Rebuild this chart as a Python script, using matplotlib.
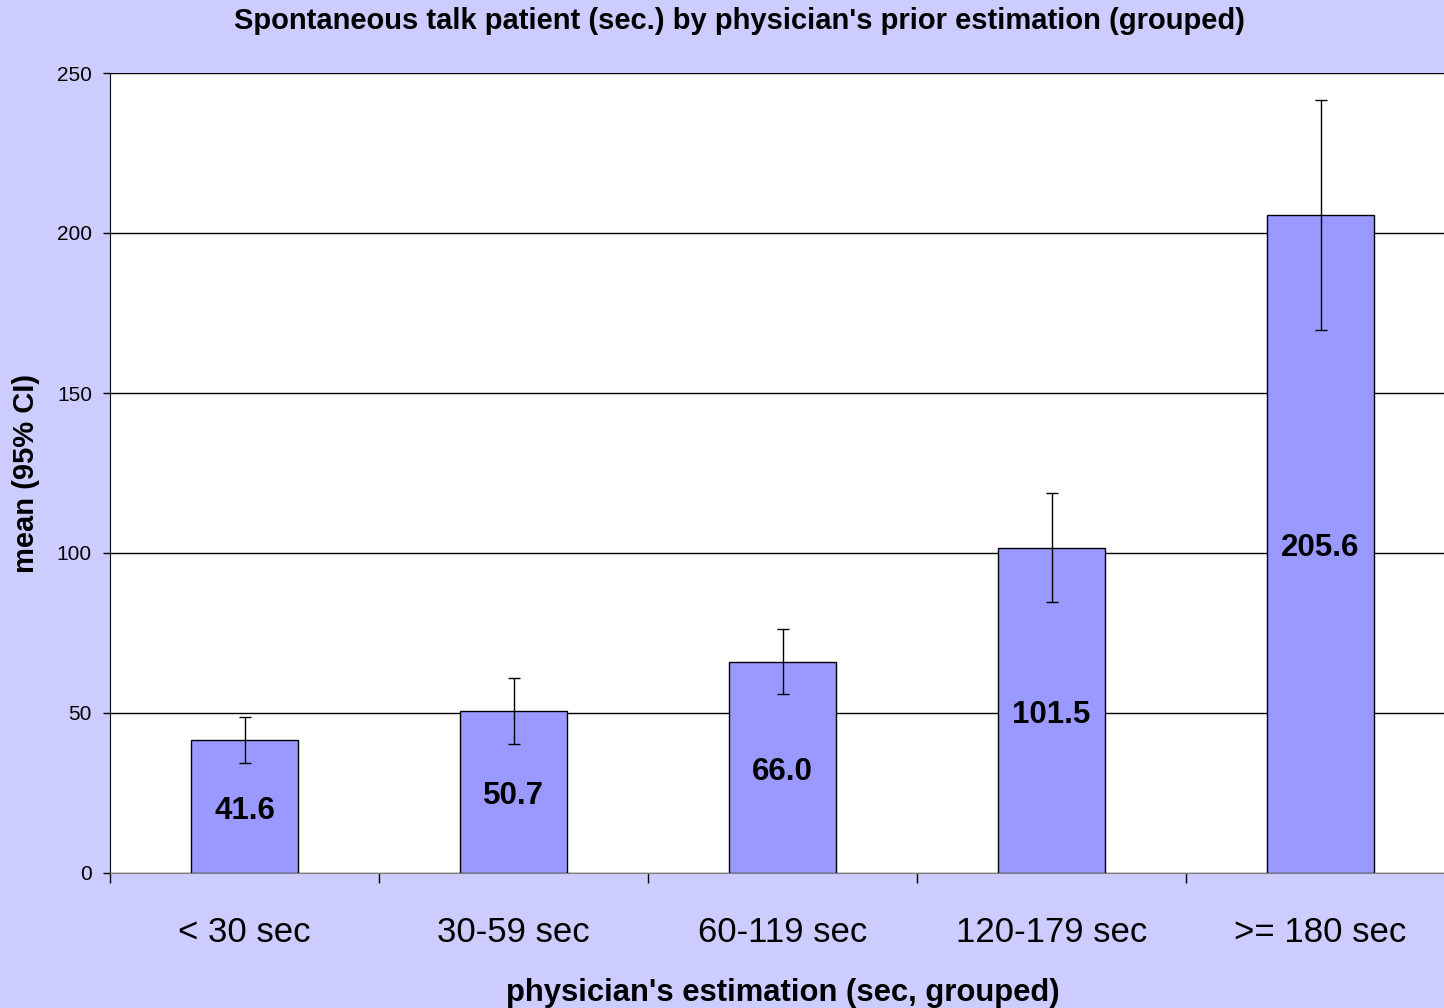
import matplotlib.pyplot as plt
import numpy as np

# data
categories = ['< 30 sec', '30-59 sec', '60-119 sec', '120-179 sec', '>= 180 sec']
means = [41.6, 50.7, 66.0, 101.5, 205.6]
ci_low = [34.4, 40.3, 55.9, 84.7, 169.7]
ci_high = [48.8, 60.9, 76.3, 118.8, 241.6]

plt.rcParams['font.family'] = ['Liberation Sans', 'DejaVu Sans']

fig = plt.figure(figsize=(14.44, 10.08), dpi=100, facecolor='#CCCCFF')
ax = fig.add_axes([110 / 1444, 1 - 873 / 1008, 1345 / 1444, 800 / 1008])
ax.set_facecolor('white')

x = np.arange(len(categories))
means = np.array(means)
yerr = [means - np.array(ci_low), np.array(ci_high) - means]

ax.bar(x, means, width=0.4, color='#9999FF', edgecolor='black', linewidth=1, zorder=3)
ax.errorbar(x, means, yerr=yerr, fmt='none', ecolor='black', elinewidth=1,
            capsize=4, capthick=1, zorder=4)

for xi, m in zip(x, means):
    ax.annotate(f'{m:.1f}', (xi, m / 2), xytext=(0, -3), textcoords='offset points',
                ha='center', va='center', fontsize=22.5, fontweight='bold', zorder=5)

ax.set_xlim(-0.5, 4.5)
ax.set_ylim(0, 250)
ax.set_yticks([0, 50, 100, 150, 200, 250])
ax.yaxis.grid(True, color='black', linewidth=1, zorder=1)
ax.tick_params(axis='y', labelsize=15, length=5, width=1, pad=8)

ax.set_xticks(x)
ax.set_xticklabels(categories, fontsize=25)
ax.set_xticks(np.arange(-0.5, 4.5, 1), minor=True)
ax.tick_params(axis='x', which='major', length=0, pad=31)
ax.tick_params(axis='x', which='minor', length=7.5, width=1)

for s in ['top', 'right']:
    ax.spines[s].set_visible(False)
ax.spines['left'].set_color('black')
ax.spines['bottom'].set_color('#808080')
ax.spines['bottom'].set_zorder(6)

ax.set_ylabel('mean (95% CI)', fontsize=21, fontweight='bold', labelpad=12)
ax.set_xlabel("physician's estimation (sec, grouped)", fontsize=22.3,
              fontweight='bold', labelpad=21)
fig.text(739 / 1444, 1 - 21 / 1008,
         "Spontaneous talk patient (sec.) by physician's prior estimation (grouped)",
         ha='center', va='center', fontsize=21, fontweight='bold')

fig.savefig('out.png', dpi=100, facecolor=fig.get_facecolor())
